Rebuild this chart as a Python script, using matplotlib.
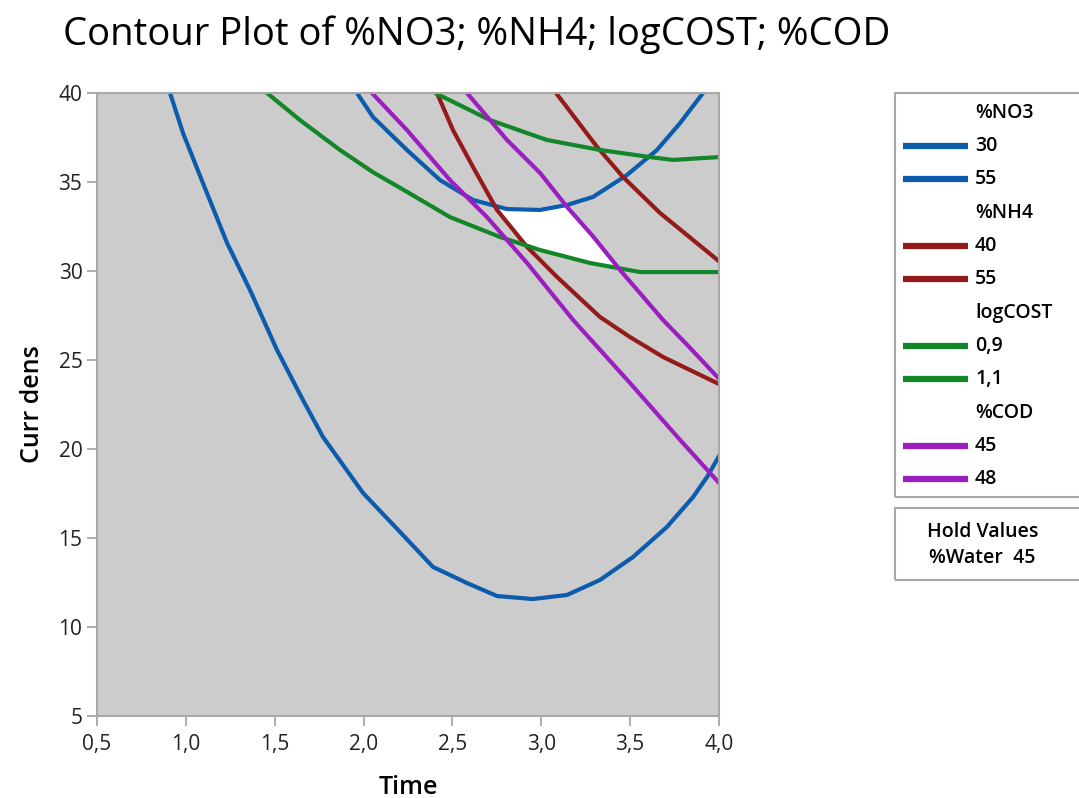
import numpy as np
import matplotlib.pyplot as plt
from matplotlib.lines import Line2D
from matplotlib.patches import Rectangle

plt.rcParams['font.family'] = ['Open Sans', 'DejaVu Sans']

# contour lines (Time, Curr dens)
no3_30_x = [0.911, 0.984, 1.096, 1.232, 1.361, 1.513, 1.659, 1.772, 1.997, 2.205, 2.391, 2.582, 2.751, 2.953, 3.145, 3.330, 3.516, 3.707, 3.854, 3.933, 4.000]
no3_30_y = [40.0, 37.75, 34.94, 31.57, 28.93, 25.56, 22.75, 20.67, 17.53, 15.34, 13.37, 12.47, 11.74, 11.57, 11.80, 12.64, 13.93, 15.62, 17.30, 18.43, 19.60]
no3_55_x = [1.963, 2.053, 2.244, 2.430, 2.616, 2.807, 2.993, 3.145, 3.291, 3.482, 3.651, 3.781, 3.910]
no3_55_y = [40.0, 38.65, 36.80, 35.11, 33.99, 33.48, 33.43, 33.71, 34.16, 35.39, 36.80, 38.31, 40.0]

nh4_40_x = [2.413, 2.503, 2.616, 2.751, 2.920, 3.089, 3.330, 3.499, 3.685, 4.000]
nh4_40_y = [40.0, 37.92, 35.84, 33.43, 31.35, 29.66, 27.42, 26.29, 25.17, 23.65]
nh4_55_x = [3.083, 3.314, 3.460, 3.668, 4.000]
nh4_55_y = [40.0, 36.97, 35.28, 33.26, 30.55]

cost_09_x = [1.457, 1.642, 1.867, 2.053, 2.244, 2.486, 2.768, 2.993, 3.274, 3.556, 4.000]
cost_09_y = [40.0, 38.48, 36.80, 35.55, 34.45, 33.03, 31.91, 31.18, 30.45, 29.94, 29.94]
cost_11_x = [2.413, 2.711, 3.032, 3.330, 3.612, 3.741, 4.000]
cost_11_y = [39.95, 38.48, 37.36, 36.80, 36.40, 36.24, 36.40]

cod_45_x = [2.047, 2.244, 2.486, 2.694, 2.920, 3.179, 3.499, 3.781, 4.000]
cod_45_y = [40.0, 37.92, 35.11, 33.03, 30.45, 27.25, 23.71, 20.51, 18.10]
cod_48_x = [2.582, 2.807, 2.993, 3.145, 3.291, 3.443, 3.685, 3.820, 4.000]
cod_48_y = [40.0, 37.36, 35.51, 33.60, 31.95, 30.06, 27.25, 25.86, 23.95]

blue = '#0b5cad'
red = '#951b1b'
green = '#13862a'
purple = '#9b1fc0'

xticks = [0.5, 1.0, 1.5, 2.0, 2.5, 3.0, 3.5, 4.0]
yticks = [5, 10, 15, 20, 25, 30, 35, 40]

fig = plt.figure(figsize=(10.79, 7.98), dpi=100)
ax = fig.add_axes([97/1079, 1-716/798, 622/1079, 623/798])
ax.set_facecolor('#cccccc')

# white feasible region: below NO3=55, above logCOST=0.9, right of NH4=40, left of COD=48
xs = np.linspace(2.6, 3.6, 400)
lo = np.maximum(np.interp(xs, cost_09_x, cost_09_y), np.interp(xs, nh4_40_x, nh4_40_y))
hi = np.minimum(np.interp(xs, no3_55_x, no3_55_y), np.interp(xs, cod_48_x, cod_48_y))
ax.fill_between(xs, lo, hi, where=hi > lo, color='white', lw=0)

lw = 3.0
ax.plot(no3_30_x, no3_30_y, color=blue, lw=lw)
ax.plot(no3_55_x, no3_55_y, color=blue, lw=lw)
ax.plot(nh4_40_x, nh4_40_y, color=red, lw=lw)
ax.plot(nh4_55_x, nh4_55_y, color=red, lw=lw)
ax.plot(cost_09_x, cost_09_y, color=green, lw=lw)
ax.plot(cost_11_x, cost_11_y, color=green, lw=lw)
ax.plot(cod_45_x, cod_45_y, color=purple, lw=lw)
ax.plot(cod_48_x, cod_48_y, color=purple, lw=lw)

ax.set_xlim(0.5, 4.0)
ax.set_ylim(5, 40)
ax.set_xticks(xticks)
ax.set_xticklabels([f'{v:.1f}'.replace('.', ',') for v in xticks])
ax.set_yticks(yticks)
ax.tick_params(length=7, width=1.2, color='#a0a0a0', labelsize=15, labelcolor='#222222')
ax.tick_params(axis='x', pad=6)
for s in ax.spines.values():
    s.set_color('#a8a8a8')
    s.set_linewidth(1.5)

ax.set_xlabel('Time', fontsize=18, fontweight='semibold', labelpad=14)
ax.set_ylabel('Curr dens', fontsize=18, fontweight='semibold', labelpad=10)
fig.text(63/1079, 1-35/798, 'Contour Plot of %NO3; %NH4; logCOST; %COD',
         fontsize=27.5, va='center', ha='left')

# legend drawn in pixel coordinates of the figure
groups = ['%NO3', '%NH4', 'logCOST', '%COD']
levels = [['30', '55'], ['40', '55'], ['0,9', '1,1'], ['45', '48']]
colors = [blue, red, green, purple]

def px(x, y):
    return x / 1079, 1 - y / 798

fig.patches.append(Rectangle(px(895, 497), 200/1079, 404/798, transform=fig.transFigure,
                             fill=False, ec='#a8a8a8', lw=1.5))
row_y = 113
for g, lv, c in zip(groups, levels, colors):
    fig.text(*px(975, row_y), g, fontsize=14, fontweight='semibold', va='center', ha='left')
    row_y += 33
    for v in lv:
        fig.add_artist(Line2D([903/1079, 968/1079], [1-row_y/798]*2, color=c, lw=4.5,
                              solid_capstyle='butt', transform=fig.transFigure))
        fig.text(*px(975, row_y), v, fontsize=14, fontweight='semibold', va='center', ha='left')
        row_y += 33
    row_y += 1

fig.patches.append(Rectangle(px(895, 580), 200/1079, 72/798, transform=fig.transFigure,
                             fill=False, ec='#a8a8a8', lw=1.5))
fig.text(*px(983, 532), 'Hold Values', fontsize=14, fontweight='semibold', va='center', ha='center')
fig.text(*px(982, 558), '%Water  45', fontsize=14, fontweight='semibold', va='center', ha='center')

fig.savefig('out.png', dpi=100)
